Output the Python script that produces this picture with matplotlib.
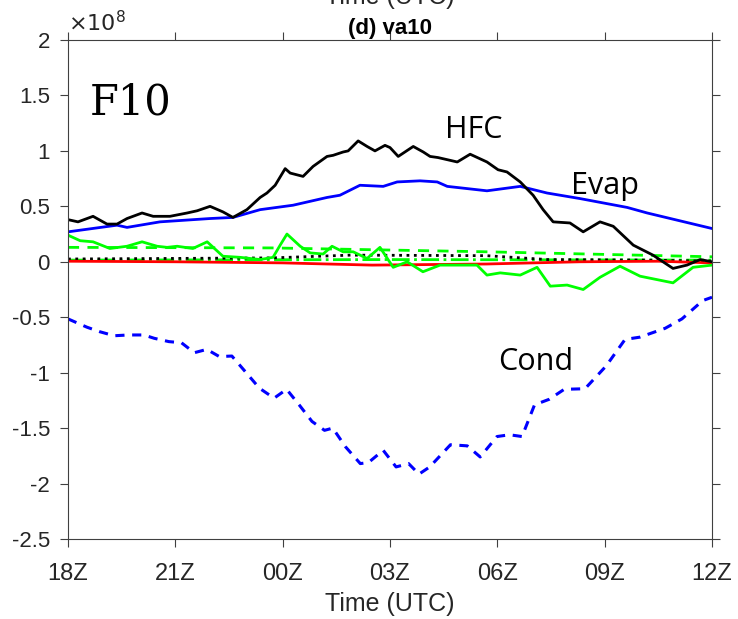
import numpy as np
import matplotlib
matplotlib.use("Agg")
import matplotlib.pyplot as plt

plt.rcParams['font.family'] = ['Liberation Sans', 'DejaVu Sans']

# hours since 18Z
tick_hours = [0, 3, 6, 9, 12, 15, 18]
tick_labels = ['18Z', '21Z', '00Z', '03Z', '06Z', '09Z', '12Z']

# HFC (black solid), units 1e8
hfc_h = [0, 0.28, 0.70, 1.09, 1.37, 1.65, 2.07, 2.38, 2.85, 3.33, 3.61, 3.97, 4.33, 4.61,
         5.00, 5.37, 5.56, 5.79, 6.07, 6.21, 6.57, 6.85, 7.24, 7.41, 7.69, 7.83, 8.11,
         8.36, 8.58, 8.86, 9.00, 9.23, 9.65, 9.93, 10.12, 10.34, 10.88, 11.24, 11.71,
         12.02, 12.27, 12.64, 13.00, 13.28, 13.56, 14.03, 14.40, 14.87, 15.24, 15.80,
         16.35, 16.91, 17.30, 17.67, 18.0]
hfc_v = [0.38, 0.36, 0.41, 0.34, 0.34, 0.39, 0.44, 0.41, 0.41, 0.44, 0.46, 0.50, 0.45, 0.40,
         0.47, 0.58, 0.62, 0.69, 0.84, 0.80, 0.77, 0.86, 0.95, 0.96, 0.99, 1.00, 1.09,
         1.04, 1.00, 1.05, 1.03, 0.95, 1.04, 0.99, 0.95, 0.94, 0.90, 0.97, 0.90,
         0.83, 0.81, 0.72, 0.60, 0.47, 0.36, 0.35, 0.27, 0.36, 0.32, 0.15,
         0.06, -0.06, -0.03, 0.02, 0.0]

# Evap (blue solid)
evap_h = [0, 1.37, 1.65, 2.57, 3.97, 4.61, 5.37, 6.29, 7.24, 7.60, 8.16, 8.81, 9.20, 9.84,
          10.32, 10.60, 11.71, 12.64, 13.39, 14.31, 15.63, 16.19, 18.0]
evap_v = [0.27, 0.33, 0.31, 0.36, 0.39, 0.40, 0.47, 0.51, 0.58, 0.60, 0.69, 0.68, 0.72, 0.73,
          0.72, 0.68, 0.64, 0.68, 0.62, 0.57, 0.49, 0.44, 0.30]

# Cond (blue dashed)
cond_h = [0, 0.53, 0.88, 1.29, 1.70, 2.12, 2.41, 2.82, 3.17, 3.53, 3.88, 4.23, 4.58, 4.94,
          5.35, 5.76, 6.11, 6.46, 6.82, 7.17, 7.40, 7.76, 8.17, 8.40, 8.81, 9.17, 9.52,
          9.81, 10.11, 10.69, 11.16, 11.52, 11.99, 12.34, 12.69, 13.04, 13.45, 13.87,
          14.45, 15.04, 15.57, 15.98, 16.69, 17.16, 17.74, 18.0]
cond_v = [-0.515, -0.59, -0.63, -0.667, -0.66, -0.66, -0.69, -0.72, -0.73, -0.82, -0.79,
          -0.855, -0.85, -0.985, -1.14, -1.23, -1.15, -1.29, -1.44, -1.52, -1.50, -1.67,
          -1.82, -1.81, -1.70, -1.85, -1.82, -1.915, -1.85, -1.65, -1.66, -1.76, -1.576,
          -1.56, -1.576, -1.29, -1.24, -1.15, -1.145, -0.94, -0.70, -0.68, -0.60, -0.515,
          -0.35, -0.32]

# green solid
gs_h = [0, 0.34, 0.70, 1.17, 1.65, 2.07, 2.49, 2.77, 3.05, 3.49, 3.89, 4.33, 4.81, 5.37,
        5.73, 5.93, 6.12, 6.49, 6.77, 7.13, 7.38, 7.69, 7.97, 8.36, 8.72, 9.09, 9.48,
        9.92, 10.40, 10.96, 11.43, 11.71, 12.08, 12.64, 13.11, 13.48, 13.95, 14.40,
        14.87, 15.43, 15.99, 16.91, 17.47, 18.0]
gs_v = [0.24, 0.19, 0.18, 0.12, 0.14, 0.18, 0.14, 0.13, 0.14, 0.12, 0.18, 0.05, 0.04, 0.02,
        0.04, 0.15, 0.25, 0.14, 0.08, 0.07, 0.14, 0.09, 0.09, 0.03, 0.13, -0.05, 0.0,
        -0.09, -0.03, -0.03, -0.03, -0.12, -0.10, -0.12, -0.05, -0.22, -0.21, -0.25,
        -0.14, -0.04, -0.13, -0.19, -0.05, -0.03]

# green dashed
gd_h = [0, 5.7, 11.7, 18.0]
gd_v = [0.13, 0.125, 0.09, 0.045]

# green dash-dot
gdd_h = [0, 9.0, 18.0]
gdd_v = [0.015, 0.02, 0.015]

# black dotted
kd_h = [0, 5.7, 7.9, 11.7, 13.4, 16.2, 18.0]
kd_v = [0.025, 0.035, 0.06, 0.055, 0.02, 0.015, 0.005]

# red solid
r_h = [0, 3.0, 6.0, 8.5, 11.7, 14.3, 16.5, 18.0]
r_v = [0.005, 0.0, -0.01, -0.03, -0.02, 0.0, 0.005, -0.01]

fig = plt.figure(figsize=(7.38, 6.19), dpi=100)
ax = fig.add_axes([68/738, 80/619, 644/738, 499/619])

ax.plot(gdd_h, gdd_v, color='#00ff00', ls='-.', lw=2)
ax.plot(kd_h, kd_v, color='k', ls=':', lw=2)
ax.plot(r_h, r_v, color='#ff0000', lw=2)
ax.plot(gd_h, gd_v, color='#00ff00', ls=(0, (4, 3)), lw=2)
ax.plot(gs_h, gs_v, color='#00ff00', lw=2)
ax.plot(evap_h, evap_v, color='#0000ff', lw=2)
ax.plot(hfc_h, hfc_v, color='k', lw=2)
ax.plot(cond_h, cond_v, color='#0000ff', ls=(0, (3, 2.5)), lw=2.2)

ax.set_xlim(0, 18)
ax.set_ylim(-2.5, 2)
ax.set_xticks(tick_hours)
ax.set_xticklabels(tick_labels)
ax.set_yticks(np.arange(-2.5, 2.01, 0.5))
ax.set_yticklabels(['-2.5', '-2', '-1.5', '-1', '-0.5', '0', '0.5', '1', '1.5', '2'])
ax.tick_params(direction='out', length=6, width=0.8, top=True, right=True,
               colors='#404040', labelcolor='#262626')
ax.tick_params(axis='x', labelsize=17, pad=11)
ax.tick_params(axis='y', labelsize=16, pad=7)
for s in ax.spines.values():
    s.set_color('#404040')
    s.set_linewidth(0.8)

ax.set_xlabel('Time (UTC)', fontsize=18, color='#262626', labelpad=5)
ax.set_title('(d) va10', fontsize=16, fontweight='bold', pad=4)
ax.text(0.0, 1.008, r'$\times10^{8}$', transform=ax.transAxes, fontsize=16,
        ha='left', va='bottom', color='#262626')
fig.text(390/738, 0.985, 'Time (UTC)', ha='center', va='bottom', fontsize=18,
         color='#262626')

ax.text(0.62, 1.44, 'F10', family='DejaVu Serif', fontsize=30, ha='left', va='center')
ax.text(11.35, 1.19, 'HFC', family=['Open Sans', 'DejaVu Sans'], fontsize=22,
        ha='center', va='center')
ax.text(15.0, 0.68, 'Evap', family=['Open Sans', 'DejaVu Sans'], fontsize=22,
        ha='center', va='center')
ax.text(13.06, -0.90, 'Cond', family=['Open Sans', 'DejaVu Sans'], fontsize=22,
        ha='center', va='center')

fig.savefig('out.png', dpi=100)
